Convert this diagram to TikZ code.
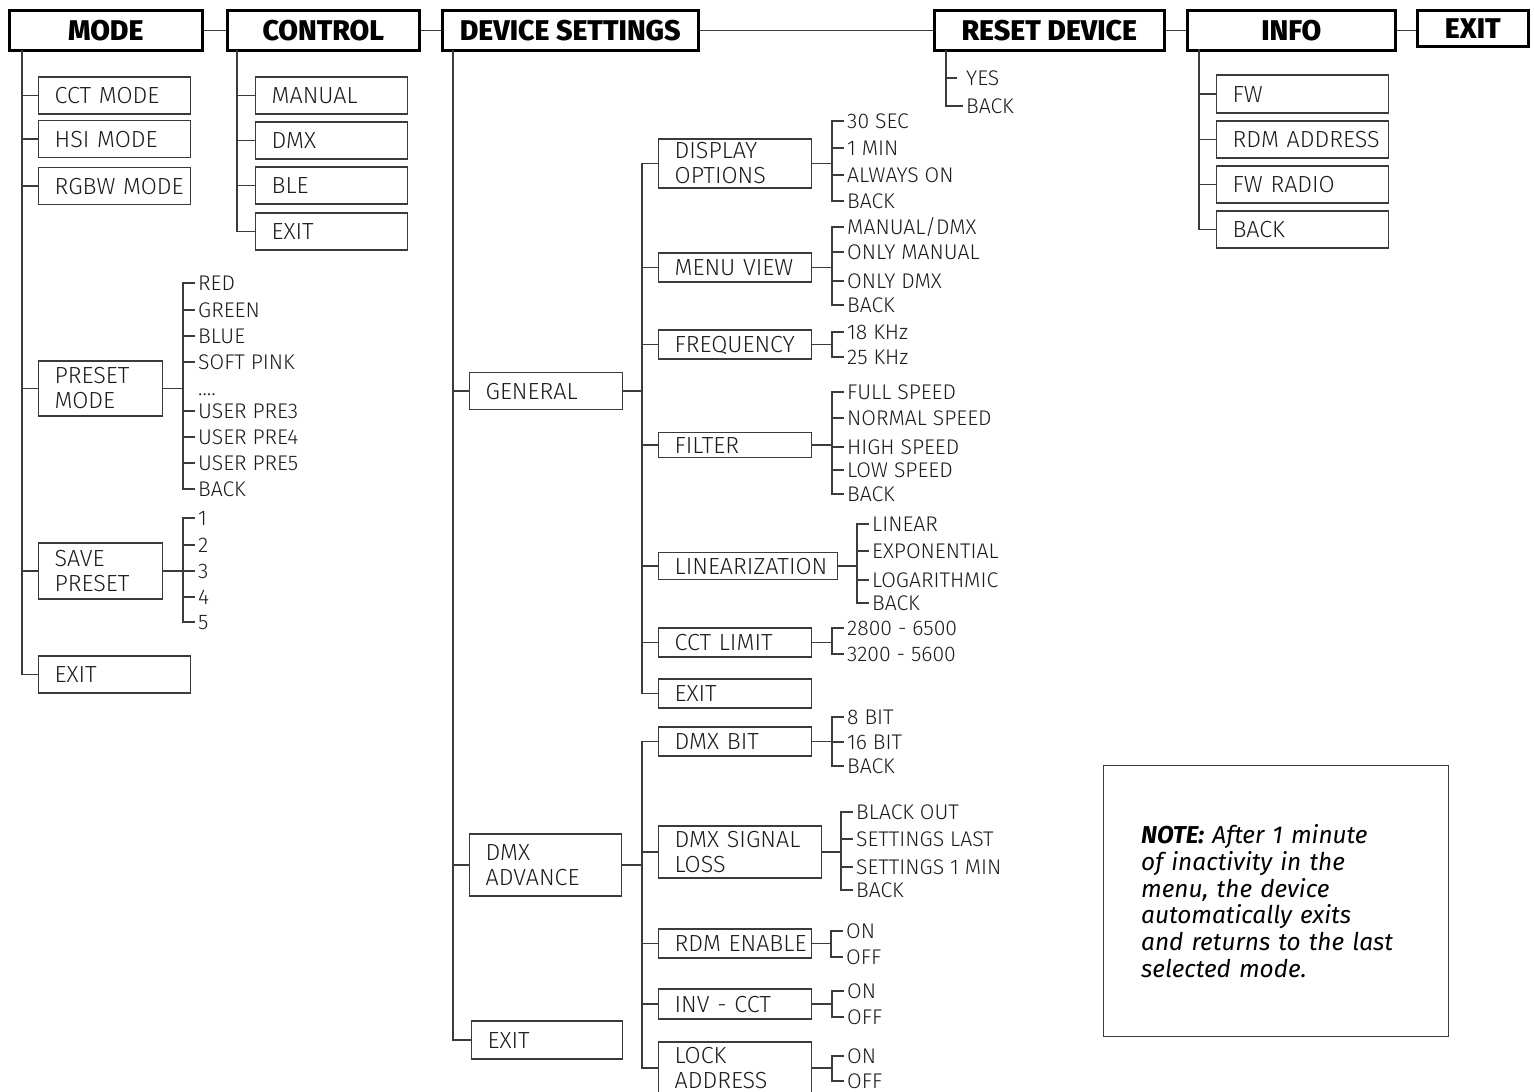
\documentclass[tikz,border=0pt]{standalone}
\usepackage{fontspec}
\setmainfont{Fira Sans}[UprightFont={* Light},BoldFont={* ExtraBold},ItalicFont={* Italic},BoldItalicFont={* Bold Italic}]
\definecolor{ink}{HTML}{1c1c1c}
\definecolor{wire}{HTML}{3b3b3b}
\newcommand\hdrfont{\fontsize{28.5}{32}\selectfont\bfseries}
\newcommand\itmfont{\fontsize{23.3}{25}\selectfont}
\newcommand\optfont{\fontsize{21.2}{24}\selectfont}
\newcommand\notefont{\fontsize{24.4}{26.8}\selectfont\itshape}
\tikzset{
  hdr/.style={draw=black,line width=2.6pt,font=\hdrfont,text=black,inner sep=0pt,minimum height=40pt,anchor=north west},
  box/.style={draw=wire,line width=1.3pt,font=\itmfont,text=ink,inner xsep=16pt,inner ysep=0pt,align=left,anchor=west},
  itm/.style={box,text width=#1,minimum height=37pt,text height=16pt,text depth=0pt},
  itm/.default=120pt,
  itm2/.style={box,text width=#1},
  itm2/.default=92pt,
  opt/.style={font=\optfont,text=ink,inner xsep=3pt,inner ysep=0pt,text height=14.6pt,text depth=0pt,anchor=west},
  ln/.style={draw=wire,line width=1.3pt},
}
% name, parent box, bracket x, list of y/text
\newcommand\optlist[4]{%
  \coordinate (#1B) at (#2.east -| #3,0);
  \draw[ln] (#2.east) -- (#1B);
  \foreach \y/\t [count=\i] in {#4} {
    \node[opt] (#1\i) at (#3+12,\y) {\t};
    \draw[ln] (#1B) |- (#1\i.west);
  }}
\begin{document}
\begin{tikzpicture}[x=1pt,y=-1pt]
\useasboundingbox (0,0) rectangle (1534,1092);
\fill[white] (0,0) rectangle (1534,1092);
\node[hdr,minimum width=193pt] (mode) at (8,9) {MODE};
\node[hdr,minimum width=192pt] (ctrl) at (226,9) {CONTROL};
\node[hdr,minimum width=256pt] (dset) at (441,9) {DEVICE SETTINGS};
\node[hdr,minimum width=230pt] (rst) at (933,9) {RESET DEVICE};
\node[hdr,minimum width=208pt] (info) at (1186,9) {INFO};
\node[hdr,minimum width=111pt,minimum height=36pt] (hexit) at (1416,9) {EXIT};
\draw[ln] (mode) -- (ctrl);
\draw[ln] (ctrl) -- (dset);
\draw[ln] (dset) -- (rst);
\draw[ln] (rst) -- (info);
\draw[ln] (info.east) -- (info.east -| hexit.west);

\coordinate (modeL) at (22,50);
\node[itm] (cct) at (38,95.5) {CCT MODE};
\node[itm] (hsi) at (38,139) {HSI MODE};
\node[itm] (rgbw) at (38,186) {\mbox{RGBW MODE}};
\node[itm2,minimum height=55pt] (pmode) at (38,388.5) {PRESET\\MODE};
\node[itm2,minimum height=56pt] (spre) at (38,571) {SAVE\\PRESET};
\node[itm] (mexit) at (38,674.5) {EXIT};
\foreach \n in {cct,hsi,rgbw,pmode,spre,mexit} \draw[ln] (modeL) |- (\n.west);
\optlist{pm}{pmode}{183}{283/RED,310/GREEN,336/BLUE,362/SOFT PINK,411/USER PRE3,437/USER PRE4,463/USER PRE5,489/BACK}
\node[opt] (pmdots) at (195,388) {....};
\optlist{sp}{spre}{183}{518/1,545/2,571/3,597/4,622/5}

\coordinate (ctrlL) at (237,50);
\node[itm] (manual) at (255,95.5) {MANUAL};
\node[itm] (cdmx) at (255,140.5) {DMX};
\node[itm] (ble) at (255,185.5) {BLE};
\node[itm] (cexit) at (255,231.5) {EXIT};
\foreach \n in {manual,cdmx,ble,cexit} \draw[ln] (ctrlL) |- (\n.west);

\coordinate (dsL) at (453,50);
\node[itm=121pt] (gen) at (469,391) {GENERAL};
\node[itm2=120pt,minimum height=62pt] (dadv) at (469,865) {DMX\\ADVANCE};
\node[itm=119pt,minimum height=38pt] (dexit) at (471,1040) {EXIT};
\foreach \n in {gen,dadv,dexit} \draw[ln] (dsL) |- (\n.west);

\coordinate (genB) at (gen.east -| 642,0);
\draw[ln] (gen.east) -- (genB);
\node[itm2=121pt,minimum height=49pt] (dopt) at (658,163.5) {DISPLAY\\OPTIONS};
\node[itm=121pt,minimum height=29pt] (mview) at (658,267.5) {MENU VIEW};
\node[itm=121pt,minimum height=29pt] (freq) at (658,344.5) {FREQUENCY};
\node[itm=121pt,minimum height=25pt] (filt) at (658,445) {FILTER};
\node[itm=147pt,minimum height=27pt] (lin) at (658,566) {\mbox{LINEARIZATION}};
\node[itm=121pt,minimum height=29pt] (cctl) at (658,642.5) {CCT LIMIT};
\node[itm=121pt,minimum height=29pt] (gexit) at (658,693.5) {EXIT};
\foreach \n in {dopt,mview,freq,filt,lin,cctl,gexit} \draw[ln] (genB) |- (\n.west);
\optlist{do}{dopt}{832}{121/30 SEC,148/1 MIN,175/ALWAYS ON,201/BACK}
\optlist{mv}{mview}{832}{227/{MANUAL/DMX},252/ONLY MANUAL,281/ONLY DMX,305/BACK}
\optlist{fq}{freq}{832}{332/18 KHz,357/25 KHz}
\optlist{fl}{filt}{832}{392/FULL SPEED,418/NORMAL SPEED,447/HIGH SPEED,470/LOW SPEED,494/BACK}
\optlist{li}{lin}{857}{524/LINEAR,551/EXPONENTIAL,580/LOGARITHMIC,603/BACK}
\optlist{cl}{cctl}{832}{628/2800 - 6500,654/3200 - 5600}

\coordinate (dadvB) at (dadv.east -| 642,0);
\draw[ln] (dadv.east) -- (dadvB);
\node[itm=121pt,minimum height=29pt] (dbit) at (658,741.5) {DMX BIT};
\node[itm2=131pt,minimum height=52pt] (dsl) at (658,852) {DMX SIGNAL\\LOSS};
\node[itm=121pt,minimum height=29pt] (rdm) at (658,943.5) {\mbox{RDM ENABLE}};
\node[itm=121pt,minimum height=30pt] (inv) at (658,1004) {INV - CCT};
\node[itm2=121pt,minimum height=52pt] (lock) at (658,1068) {LOCK\\ADDRESS};
\foreach \n in {dbit,dsl,rdm,inv,lock} \draw[ln] (dadvB) |- (\n.west);
\optlist{db}{dbit}{832}{717/8 BIT,742/16 BIT,766/BACK}
\optlist{ds}{dsl}{841}{812/BLACK OUT,839/SETTINGS LAST,867/SETTINGS 1 MIN,890/BACK}
\optlist{rd}{rdm}{831}{931/ON,957/OFF}
\optlist{iv}{inv}{832}{991/ON,1017/OFF}
\optlist{lk}{lock}{832}{1056/ON,1081/OFF}

\coordinate (rstL) at (946,50);
\node[opt] (yes) at (963,78) {YES};
\node[opt] (rback) at (963,106) {BACK};
\draw[ln,shorten >=6pt] (rstL) |- (yes.west);
\draw[ln] (rstL) |- (rback.west);

\coordinate (infoL) at (1199,49);
\node[itm=140pt,minimum height=38pt] (fw) at (1216,94) {FW};
\node[itm=140pt] (rdma) at (1216,139.5) {\mbox{RDM ADDRESS}};
\node[itm=140pt] (fwr) at (1216,184.5) {FW RADIO};
\node[itm=140pt] (iback) at (1216,229.5) {BACK};
\foreach \n in {fw,rdma,fwr,iback} \draw[ln] (infoL) |- (\n.west);

\node[draw=wire,line width=1.3pt,anchor=north west,minimum width=345pt,minimum height=271pt,text width=270pt,inner xsep=37.5pt,align=left,font=\notefont,text=black] (note) at (1103,765) {\textbf{NOTE:} After 1 minute\\of inactivity in the\\menu, the device\\automatically exits\\and returns to the last\\selected mode.};
\end{tikzpicture}
\end{document}
